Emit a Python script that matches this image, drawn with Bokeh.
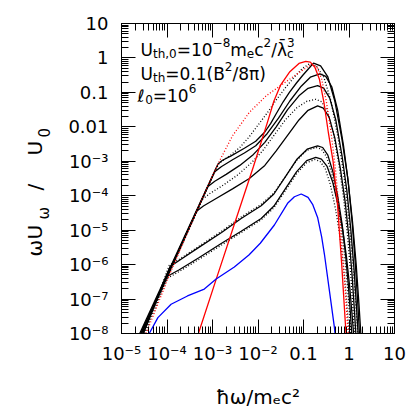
import numpy as np
from bokeh.plotting import figure
from bokeh.layouts import row
from bokeh.models import LogAxis, FixedTicker, CustomJSTickFormatter, Label, Range1d
from bokeh.embed import file_html
from bokeh.resources import INLINE

# ---------------- data (log10 of x = hbar*omega/me c^2, log10 of y = omega U_omega / U_0) -------------
x_ticks = [1e-5, 1e-4, 1e-3, 1e-2, 0.1, 1, 10]
x_tick_labels = ["10⁻⁵", "10⁻⁴", "10⁻³", "10⁻²", "0.1", "1", "10"]
y_ticks = [1e-8, 1e-7, 1e-6, 1e-5, 1e-4, 1e-3, 1e-2, 0.1, 1, 10]
y_tick_labels = ["10⁻⁸", "10⁻⁷", "10⁻⁶", "10⁻⁵", "10⁻⁴", "10⁻³", "0.01", "0.1", "1", "10"]
x_title = "ħω/mₑc²"

# black solid curves
c1_lx = [-4.60, -3.00, -2.88, -2.78, -2.60, -2.30, -2.05, -1.85, -1.72, -1.60, -1.45, -1.31, -1.15, -1.02, -0.88, -0.78, -0.624, -0.468, -0.312, -0.156, -0.031, 0.073, 0.156, 0.218, 0.26]
c1_ly = [-8.0, -3.42, -3.08, -2.97, -2.85, -2.62, -2.42, -2.15, -1.90, -1.62, -1.28, -1.00, -0.72, -0.51, -0.30, -0.15, -0.23, -0.54, -1.25, -2.35, -3.45, -4.70, -5.96, -7.13, -8.0]

c2_lx = [-4.58, -2.95, -2.80, -2.55, -2.30, -2.05, -1.80, -1.55, -1.30, -1.05, -0.85, -0.64, -0.51, -0.379, -0.249, -0.118, -0.014, 0.073, 0.143, 0.195, 0.23]
c2_ly = [-8.0, -3.30, -3.15, -2.95, -2.76, -2.55, -2.20, -1.75, -1.25, -0.82, -0.56, -0.46, -0.535, -0.837, -1.516, -2.57, -3.63, -4.83, -6.05, -7.17, -8.0]

c3_lx = [-4.57, -3.105, -2.95, -2.70, -2.40, -2.10, -1.85, -1.60, -1.35, -1.10, -0.90, -0.69, -0.557, -0.423, -0.289, -0.156, -0.049, 0.040, 0.111, 0.164, 0.20]
c3_ly = [-8.0, -3.74, -3.58, -3.38, -3.12, -2.80, -2.45, -2.00, -1.50, -1.10, -0.88, -0.805, -0.877, -1.165, -1.81, -2.82, -3.83, -4.98, -6.13, -7.21, -8.0]

c4_lx = [-4.56, -3.35, -3.20, -2.92, -2.56, -2.19, -1.85, -1.60, -1.35, -1.10, -0.90, -0.69, -0.564, -0.438, -0.312, -0.186, -0.085, 0.0, 0.066, 0.116, 0.15]
c4_ly = [-8.0, -4.45, -4.30, -4.08, -3.80, -3.50, -3.12, -2.70, -2.25, -1.80, -1.52, -1.39, -1.456, -1.72, -2.32, -3.24, -4.17, -5.22, -6.28, -7.27, -8.0]

c5_lx = [-4.53, -3.93, -3.70, -3.30, -2.80, -2.37, -1.93, -1.65, -1.40, -1.15, -0.92, -0.69, -0.578, -0.465, -0.353, -0.24, -0.15, -0.075, -0.015, 0.03, 0.06]
c5_ly = [-8.0, -6.05, -5.85, -5.50, -5.07, -4.66, -4.29, -3.95, -3.45, -2.95, -2.65, -2.55, -2.60, -2.82, -3.31, -4.08, -4.84, -5.71, -6.58, -7.40, -8.0]

c6_lx = [-4.52, -4.02, -3.73, -3.30, -2.80, -2.37, -1.93, -1.65, -1.40, -1.15, -0.93, -0.73, -0.606, -0.481, -0.357, -0.232, -0.132, -0.049, 0.017, 0.067, 0.10]
c6_ly = [-8.0, -6.36, -6.15, -5.80, -5.38, -5.03, -4.66, -4.30, -3.80, -3.30, -2.98, -2.89, -2.94, -3.15, -3.61, -4.32, -5.04, -5.85, -6.67, -7.44, -8.0]

# black dotted curves
da_lx = [-4.56, -2.95, -2.85, -2.75, -2.60, -2.40, -2.20, -2.00, -1.80, -1.60, -1.40, -1.20, -1.02, -0.87, -0.711, -0.552, -0.393, -0.234, -0.107, -0.001, 0.084, 0.148, 0.19]
da_ly = [-8.0, -3.30, -3.05, -2.96, -2.82, -2.60, -2.30, -1.95, -1.60, -1.22, -0.87, -0.55, -0.30, -0.17, -0.25, -0.56, -1.27, -2.36, -3.46, -4.71, -5.96, -7.14, -8.0]

db_lx = [-4.54, -3.22, -3.05, -2.75, -2.45, -2.15, -1.90, -1.65, -1.40, -1.15, -0.93, -0.73, -0.603, -0.475, -0.348, -0.22, -0.118, -0.033, 0.035, 0.086, 0.12]
db_ly = [-8.0, -4.10, -3.93, -3.68, -3.40, -3.05, -2.70, -2.25, -1.80, -1.45, -1.26, -1.20, -1.27, -1.54, -2.15, -3.10, -4.06, -5.14, -6.23, -7.25, -8.0]

dc_lx = [-4.51, -3.95, -3.70, -3.30, -2.80, -2.37, -1.93, -1.65, -1.40, -1.15, -0.92, -0.72, -0.606, -0.492, -0.378, -0.264, -0.173, -0.097, -0.036, 0.01, 0.04]
dc_ly = [-8.0, -6.02, -5.82, -5.47, -5.03, -4.62, -4.25, -3.92, -3.45, -2.97, -2.68, -2.60, -2.65, -2.87, -3.36, -4.11, -4.87, -5.73, -6.60, -7.41, -8.0]

dd_lx = [-4.49, -4.00, -3.73, -3.30, -2.80, -2.37, -1.93, -1.65, -1.40, -1.15, -0.93, -0.75, -0.638, -0.525, -0.413, -0.30, -0.21, -0.135, -0.075, -0.03, 0.0]
dd_ly = [-8.0, -6.40, -6.20, -5.85, -5.43, -5.07, -4.70, -4.35, -3.86, -3.36, -3.04, -2.95, -3.00, -3.20, -3.66, -4.36, -5.07, -5.88, -6.69, -7.44, -8.0]

# red curves
rs_lx = [-3.31, -2.90, -2.50, -2.10, -1.80, -1.65, -1.50, -1.30, -1.10, -0.95, -0.85, -0.75, -0.65, -0.55, -0.45, -0.35, -0.25, -0.16, -0.066]
rs_ly = [-8.0, -6.35, -4.75, -3.15, -1.90, -1.25, -0.78, -0.40, -0.16, -0.10, -0.12, -0.27, -0.62, -1.30, -2.20, -3.00, -4.30, -6.00, -8.0]

rd_lx = [-4.46, -3.91, -3.36, -3.07, -2.85, -2.56, -2.19, -1.82, -1.46, -1.09, -0.87, -0.78, -0.70, -0.60, -0.50, -0.40, -0.30, -0.20, -0.10, -0.02]
rd_ly = [-8.0, -6.18, -4.49, -3.62, -3.00, -2.26, -1.58, -1.10, -0.76, -0.42, -0.22, -0.19, -0.28, -0.62, -1.25, -2.10, -3.20, -4.65, -6.40, -8.0]

# blue curve
bl_lx = [-4.39, -4.20, -3.91, -3.55, -3.18, -2.92, -2.52, -2.20, -1.95, -1.64, -1.35, -1.20, -1.05, -0.90, -0.80, -0.69, -0.60, -0.54, -0.43, -0.32, -0.307]
bl_ly = [-8.0, -7.54, -7.15, -6.91, -6.71, -6.42, -6.07, -5.72, -5.38, -4.85, -4.22, -4.03, -3.95, -4.05, -4.25, -4.63, -5.20, -5.70, -6.76, -7.83, -8.0]

# ---------------- layout geometry (page pixels) -------------
FONT = "DejaVu Sans"
LW_FIG = 58                                  # narrow left figure that carries the rotated y-axis title
FL, FT, FW, FH = 121, 23, 273, 310           # main frame left/top/width/height
FB = FT + FH
TOTAL_H = 413

# ---------------- main figure -------------
p = figure(frame_width=FW, frame_height=FH, x_axis_type="log", y_axis_type="log",
           x_range=Range1d(1e-5, 10), y_range=Range1d(1e-8, 10),
           output_backend="svg", toolbar_location=None,
           min_border_left=FL - LW_FIG, min_border_right=13, min_border_top=FT,
           min_border_bottom=TOTAL_H - FB)
p.grid.visible = False
p.outline_line_color = "black"
p.background_fill_color = "white"
p.border_fill_color = "white"

x_minor = [m * t for t in x_ticks[:-1] for m in range(2, 10)]
y_minor = [m * t for t in y_ticks[:-1] for m in range(2, 10)]

fmt_code = """
for (let i = 0; i < vals.length; i++) {
  if (Math.abs(Math.log10(tick) - Math.log10(vals[i])) < 1e-6) { return labels[i]; }
}
return '';
"""

p.add_layout(LogAxis(), "above")
p.add_layout(LogAxis(), "right")

for ax in p.xaxis:
    ax.ticker = FixedTicker(ticks=x_ticks, minor_ticks=x_minor)
for ax in p.yaxis:
    ax.ticker = FixedTicker(ticks=y_ticks, minor_ticks=y_minor)
p.below[0].formatter = CustomJSTickFormatter(args=dict(vals=x_ticks, labels=x_tick_labels), code=fmt_code)
p.left[0].formatter = CustomJSTickFormatter(args=dict(vals=y_ticks, labels=y_tick_labels), code=fmt_code)
p.above[0].formatter = CustomJSTickFormatter(code="return '';")
p.right[0].formatter = CustomJSTickFormatter(code="return '';")

for ax in p.axis:
    ax.major_tick_in = 14
    ax.major_tick_out = 0
    ax.minor_tick_in = 7
    ax.minor_tick_out = 0
    ax.axis_line_color = "black"
    ax.major_tick_line_color = "black"
    ax.minor_tick_line_color = "black"
    ax.major_label_text_font = FONT
    ax.major_label_text_font_size = "18px"
    ax.major_label_text_color = "black"

p.below[0].major_label_standoff = 9
p.left[0].major_label_standoff = 13
p.above[0].major_label_standoff = 0
p.right[0].major_label_standoff = 0

bx = p.below[0]
bx.axis_label = x_title
bx.axis_label_text_font = FONT
bx.axis_label_text_font_size = "20px"
bx.axis_label_text_font_style = "normal"
bx.axis_label_text_color = "black"
bx.axis_label_standoff = 18

def L(lx, ly):
    return 10.0 ** np.array(lx), 10.0 ** np.array(ly)

LW = 1.3
for lx, ly in [(c1_lx, c1_ly), (c2_lx, c2_ly), (c3_lx, c3_ly), (c4_lx, c4_ly), (c5_lx, c5_ly), (c6_lx, c6_ly)]:
    xs, ys = L(lx, ly)
    p.line(xs, ys, line_color="black", line_width=LW)
for lx, ly in [(da_lx, da_ly), (db_lx, db_ly), (dc_lx, dc_ly), (dd_lx, dd_ly)]:
    xs, ys = L(lx, ly)
    p.line(xs, ys, line_color="black", line_width=LW, line_dash="1 2")
xs, ys = L(rd_lx, rd_ly)
p.line(xs, ys, line_color="#ff0000", line_width=LW, line_dash="1 2")
xs, ys = L(rs_lx, rs_ly)
p.line(xs, ys, line_color="#ff0000", line_width=LW)
xs, ys = L(bl_lx, bl_ly)
p.line(xs, ys, line_color="#0000ff", line_width=LW)

# ---------------- rich text helpers -------------
W = {'0': .636, '1': .636, '2': .636, '3': .636, '4': .636, '5': .636, '6': .636, '7': .636, '8': .636, '9': .636,
     'U': .732, 't': .392, 'h': .634, ',': .318, '=': .838, 'm': .974, 'e': .615, 'c': .550, '/': .337,
     '.': .318, '(': .390, ')': .390, 'B': .686, 'π': .602, 'λ': .592, 'ℓ': .45, '−': .838, ' ': .318,
     'ω': .80, 'ħ': .634, '\u0304': 0.0}

def tw(s, size):
    return sum(W.get(ch, 0.6) for ch in s) * size

def add_text(fig, txt, size, sx, sy, angle=0.0):
    """Label in screen units of fig's frame (x from frame left, y up from frame bottom), baseline start."""
    fig.add_layout(Label(x=sx, y=sy, x_units="screen", y_units="screen", text=txt, angle=angle,
                         text_font=FONT, text_font_size=f"{size}px", text_color="black",
                         text_baseline="alphabetic", text_align="left"))

def rich(pieces, px0, py0):
    """pieces (text, size, shift-up, advance?) with baseline start at page pixel (px0, py0) in main fig."""
    pos = 0.0
    for txt, size, shift, adv in pieces:
        add_text(p, txt, size, px0 + pos - FL, FB - py0 + shift)
        if adv:
            pos += tw(txt, size)

# upper-left annotation
S, s = 17, 12
line1 = [("U", S, 0, 1), ("th,0", s, -4, 1), ("=10", S, 0, 1), ("−8", s, 7, 1), ("m", S, 0, 1),
         ("e", s, -4, 1), ("c", S, 0, 1), ("2", s, 7, 1), ("/λ\u0304", S, 0, 1), ("3", s, 7, 0), ("c", s, -4, 1)]
line2 = [("U", S, 0, 1), ("th", s, -4, 1), ("=0.1(B", S, 0, 1), ("2", s, 7, 1), ("/8π)", S, 0, 1)]
line3 = [("ℓ", S, 0, 1), ("0", s, -4, 1), ("=10", S, 0, 1), ("6", s, 7, 1)]
rich(line1, 140, 49)
rich(line2, 140, 73)
rich(line3, 137, 95)

# ---------------- left strip with the rotated y-axis title -------------
q = figure(width=LW_FIG, height=TOTAL_H, x_range=Range1d(0, 1), y_range=Range1d(0, 1),
           output_backend="svg", toolbar_location=None, min_border=0,
           x_axis_location=None, y_axis_location=None)
q.grid.visible = False
q.outline_line_color = None
q.background_fill_color = "white"
q.border_fill_color = "white"

# (text, size, start position along the upward text direction in page y, is-subscript)
# the strip's frame is aligned with the main frame (top FT, bottom FB)
ylab = [("ω", 20, 256, 0), ("U", 20, 239, 0), ("ω", 15, 219, 1), ("/", 20, 190, 0), ("U", 20, 155, 0), ("0", 15, 137, 1)]
for txt, size, pstart, sub in ylab:
    add_text(q, txt, size, 34 + (9 if sub else 0), FB - pstart, angle=np.pi / 2)

layout = row(q, p, spacing=0)
open("out.html", "w").write(file_html(layout, INLINE))
